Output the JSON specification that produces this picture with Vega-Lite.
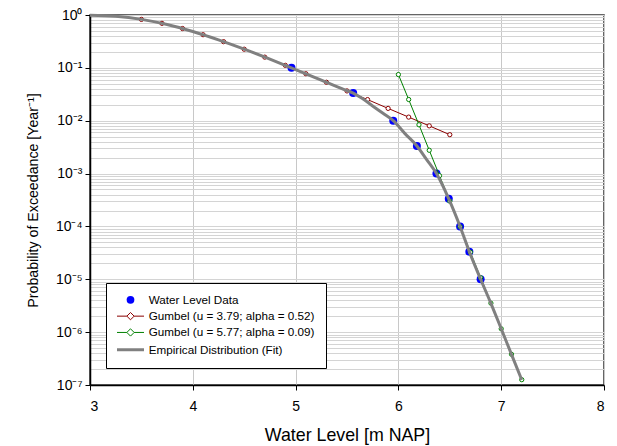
{
  "$schema": "https://vega.github.io/schema/vega-lite/v6.json",
  "width": 514,
  "height": 370,
  "autosize": "none",
  "padding": {"left": 90, "top": 15, "right": 13, "bottom": 61},
  "background": "white",
  "config": {
    "font": "Liberation Sans",
    "view": {"stroke": "#333333", "strokeWidth": 1.5},
    "axis": {"labelColor": "black", "titleColor": "black", "domainColor": "black", "domainWidth": 1.5, "tickColor": "black", "tickSize": 5, "titleFontWeight": "normal", "labelFontSize": 14, "titleFontSize": 16}
  },
  "datasets": {
    "pts": [
      {"series": "Water Level Data", "x": 4.96, "p": 0.1},
      {"series": "Water Level Data", "x": 5.56, "p": 0.0333},
      {"series": "Water Level Data", "x": 5.95, "p": 0.01},
      {"series": "Water Level Data", "x": 6.18, "p": 0.00333},
      {"series": "Water Level Data", "x": 6.37, "p": 0.001},
      {"series": "Water Level Data", "x": 6.49, "p": 0.000333},
      {"series": "Water Level Data", "x": 6.6, "p": 0.0001},
      {"series": "Water Level Data", "x": 6.69, "p": 3.33e-5},
      {"series": "Water Level Data", "x": 6.8, "p": 1e-5},
      {"series": "Gumbel (u = 3.79; alpha = 0.52)", "x": 3.5, "p": 0.8257},
      {"series": "Gumbel (u = 3.79; alpha = 0.52)", "x": 3.7, "p": 0.6955},
      {"series": "Gumbel (u = 3.79; alpha = 0.52)", "x": 3.9, "p": 0.5549},
      {"series": "Gumbel (u = 3.79; alpha = 0.52)", "x": 4.1, "p": 0.4236},
      {"series": "Gumbel (u = 3.79; alpha = 0.52)", "x": 4.3, "p": 0.3127},
      {"series": "Gumbel (u = 3.79; alpha = 0.52)", "x": 4.5, "p": 0.2253},
      {"series": "Gumbel (u = 3.79; alpha = 0.52)", "x": 4.7, "p": 0.1595},
      {"series": "Gumbel (u = 3.79; alpha = 0.52)", "x": 4.9, "p": 0.1116},
      {"series": "Gumbel (u = 3.79; alpha = 0.52)", "x": 5.1, "p": 0.0774},
      {"series": "Gumbel (u = 3.79; alpha = 0.52)", "x": 5.3, "p": 0.0534},
      {"series": "Gumbel (u = 3.79; alpha = 0.52)", "x": 5.5, "p": 0.0366},
      {"series": "Gumbel (u = 3.79; alpha = 0.52)", "x": 5.7, "p": 0.0251},
      {"series": "Gumbel (u = 3.79; alpha = 0.52)", "x": 5.9, "p": 0.0171},
      {"series": "Gumbel (u = 3.79; alpha = 0.52)", "x": 6.1, "p": 0.0117},
      {"series": "Gumbel (u = 3.79; alpha = 0.52)", "x": 6.3, "p": 0.008},
      {"series": "Gumbel (u = 3.79; alpha = 0.52)", "x": 6.5, "p": 0.00544},
      {"series": "Gumbel (u = 5.77; alpha = 0.09)", "x": 6.0, "p": 0.0747},
      {"series": "Gumbel (u = 5.77; alpha = 0.09)", "x": 6.1, "p": 0.0252},
      {"series": "Gumbel (u = 5.77; alpha = 0.09)", "x": 6.2, "p": 0.00837},
      {"series": "Gumbel (u = 5.77; alpha = 0.09)", "x": 6.3, "p": 0.00276},
      {"series": "Gumbel (u = 5.77; alpha = 0.09)", "x": 6.4, "p": 0.000912},
      {"series": "Gumbel (u = 5.77; alpha = 0.09)", "x": 6.5, "p": 0.0003},
      {"series": "Gumbel (u = 5.77; alpha = 0.09)", "x": 6.6, "p": 9.88e-5},
      {"series": "Gumbel (u = 5.77; alpha = 0.09)", "x": 6.7, "p": 3.25e-5},
      {"series": "Gumbel (u = 5.77; alpha = 0.09)", "x": 6.8, "p": 1.07e-5},
      {"series": "Gumbel (u = 5.77; alpha = 0.09)", "x": 6.9, "p": 3.53e-6},
      {"series": "Gumbel (u = 5.77; alpha = 0.09)", "x": 7.0, "p": 1.16e-6},
      {"series": "Gumbel (u = 5.77; alpha = 0.09)", "x": 7.1, "p": 3.82e-7},
      {"series": "Gumbel (u = 5.77; alpha = 0.09)", "x": 7.2, "p": 1.26e-7},
      {"series": "Empirical Distribution (Fit)", "x": 3.0, "p": 0.99},
      {"series": "Empirical Distribution (Fit)", "x": 3.25, "p": 0.945},
      {"series": "Empirical Distribution (Fit)", "x": 3.5, "p": 0.826},
      {"series": "Empirical Distribution (Fit)", "x": 3.75, "p": 0.66},
      {"series": "Empirical Distribution (Fit)", "x": 4.0, "p": 0.487},
      {"series": "Empirical Distribution (Fit)", "x": 4.25, "p": 0.338},
      {"series": "Empirical Distribution (Fit)", "x": 4.5, "p": 0.2253},
      {"series": "Empirical Distribution (Fit)", "x": 4.75, "p": 0.146},
      {"series": "Empirical Distribution (Fit)", "x": 5.0, "p": 0.093},
      {"series": "Empirical Distribution (Fit)", "x": 5.25, "p": 0.0585},
      {"series": "Empirical Distribution (Fit)", "x": 5.45, "p": 0.0403},
      {"series": "Empirical Distribution (Fit)", "x": 5.56, "p": 0.0333},
      {"series": "Empirical Distribution (Fit)", "x": 5.65, "p": 0.0262},
      {"series": "Empirical Distribution (Fit)", "x": 5.756, "p": 0.0186},
      {"series": "Empirical Distribution (Fit)", "x": 5.85, "p": 0.0138},
      {"series": "Empirical Distribution (Fit)", "x": 5.95, "p": 0.01},
      {"series": "Empirical Distribution (Fit)", "x": 6.064, "p": 0.0057},
      {"series": "Empirical Distribution (Fit)", "x": 6.18, "p": 0.00333},
      {"series": "Empirical Distribution (Fit)", "x": 6.275, "p": 0.00184},
      {"series": "Empirical Distribution (Fit)", "x": 6.37, "p": 0.001},
      {"series": "Empirical Distribution (Fit)", "x": 6.49, "p": 0.000333},
      {"series": "Empirical Distribution (Fit)", "x": 6.6, "p": 0.0001},
      {"series": "Empirical Distribution (Fit)", "x": 6.69, "p": 3.33e-5},
      {"series": "Empirical Distribution (Fit)", "x": 6.8, "p": 1e-5},
      {"series": "Empirical Distribution (Fit)", "x": 6.9, "p": 3.5e-6},
      {"series": "Empirical Distribution (Fit)", "x": 7.0, "p": 1.16e-6},
      {"series": "Empirical Distribution (Fit)", "x": 7.1, "p": 3.8e-7},
      {"series": "Empirical Distribution (Fit)", "x": 7.2, "p": 1.25e-7}
    ]
  },
  "data": {"name": "pts"},
  "encoding": {
    "x": {
      "field": "x", "type": "quantitative",
      "scale": {"domain": [3, 8], "nice": false, "zero": false},
      "axis": {"title": "Water Level [m NAP]", "titleFontSize": 17.8, "values": [3, 4, 5, 6, 7, 8], "grid": true, "gridColor": "#c8c8c8", "gridWidth": 1, "labelPadding": 9, "titlePadding": 13}
    },
    "y": {
      "field": "p", "type": "quantitative",
      "scale": {"type": "log", "domain": [1e-7, 1], "nice": false},
      "axis": {
        "title": "Probability of Exceedance [Year⁻¹]",
        "titleFontSize": 14.2,
        "values": [1e-7, 2e-7, 3e-7, 4e-7, 5e-7, 6e-7, 7e-7, 8e-7, 9e-7, 1e-6, 2e-6, 3e-6, 4e-6, 5e-6, 6e-6, 7e-6, 8e-6, 9e-6, 1e-5, 2e-5, 3e-5, 4e-5, 5e-5, 6e-5, 7e-5, 8e-5, 9e-5, 1e-4, 2e-4, 3e-4, 4e-4, 5e-4, 6e-4, 7e-4, 8e-4, 9e-4, 0.001, 0.002, 0.003, 0.004, 0.005, 0.006, 0.007, 0.008, 0.009, 0.01, 0.02, 0.03, 0.04, 0.05, 0.06, 0.07, 0.08, 0.09, 0.1, 0.2, 0.3, 0.4, 0.5, 0.6, 0.7, 0.8, 0.9, 1],
        "grid": true, "gridColor": "#d4d4d4", "gridWidth": 1,
        "labelExpr": "abs(log(datum.value)/LN10 - round(log(datum.value)/LN10)) < 1e-6 ? '10' + ['⁰','⁻¹','⁻²','⁻³','⁻⁴','⁻⁵','⁻⁶','⁻⁷'][-round(log(datum.value)/LN10)] : ''",
        "labelOverlap": false,
        "labelPadding": 3,
        "tickOpacity": {"condition": {"test": "abs(log(datum.value)/LN10 - round(log(datum.value)/LN10)) < 1e-6", "value": 1}, "value": 0},
        "titlePadding": 15
      }
    },
    "color": {
      "field": "series", "type": "nominal",
      "scale": {"domain": ["Water Level Data", "Gumbel (u = 3.79; alpha = 0.52)", "Gumbel (u = 5.77; alpha = 0.09)", "Empirical Distribution (Fit)"], "range": ["#0000ff", "#8b0000", "#008000", "#808080"]},
      "legend": {
        "title": null,
        "orient": "none", "legendX": 16, "legendY": 268,
        "fillColor": "white", "strokeColor": "black", "padding": 11,
        "labelFontSize": 11.7, "labelColor": "black", "labelLimit": 0,
        "symbolSize": 144, "rowPadding": 3.3, "labelOffset": 20,
        "encode": {
          "symbols": {
            "update": {
              "x": {"value": 13.5},
              "shape": {"signal": "datum.value === 'Water Level Data' ? 'circle' : datum.value === 'Empirical Distribution (Fit)' ? 'M-1,0H1' : 'M-1,0H-0.27M0.27,0H1M0,-0.27L0.27,0L0,0.27L-0.27,0Z'"},
              "size": {"signal": "datum.value === 'Water Level Data' ? 60 : 729"},
              "fillOpacity": {"signal": "datum.value === 'Water Level Data' ? 1 : 0"},
              "stroke": {"signal": "datum.value === 'Water Level Data' ? '#0000ff' : datum.value === 'Empirical Distribution (Fit)' ? '#808080' : datum.value === 'Gumbel (u = 3.79; alpha = 0.52)' ? '#8b0000' : '#008000'"},
              "strokeWidth": {"signal": "datum.value === 'Empirical Distribution (Fit)' ? 3 : datum.value === 'Water Level Data' ? 0 : 1"},
              "opacity": {"value": 1}
            }
          }
        }
      }
    }
  },
  "layer": [
    {
      "transform": [{"filter": "datum.series === 'Water Level Data'"}],
      "mark": {"type": "circle", "size": 64, "opacity": 1}
    },
    {
      "transform": [{"filter": "datum.series === 'Gumbel (u = 3.79; alpha = 0.52)'"}],
      "mark": {"type": "line", "strokeWidth": 1, "point": {"filled": false, "fill": "white", "size": 18, "strokeWidth": 1, "opacity": 1}}
    },
    {
      "transform": [{"filter": "datum.series === 'Gumbel (u = 5.77; alpha = 0.09)'"}],
      "mark": {"type": "line", "strokeWidth": 1, "point": {"filled": false, "fill": "white", "size": 18, "strokeWidth": 1, "opacity": 1}}
    },
    {
      "transform": [{"filter": "datum.series === 'Empirical Distribution (Fit)'"}],
      "mark": {"type": "line", "strokeWidth": 3, "interpolate": "monotone"}
    }
  ]
}
